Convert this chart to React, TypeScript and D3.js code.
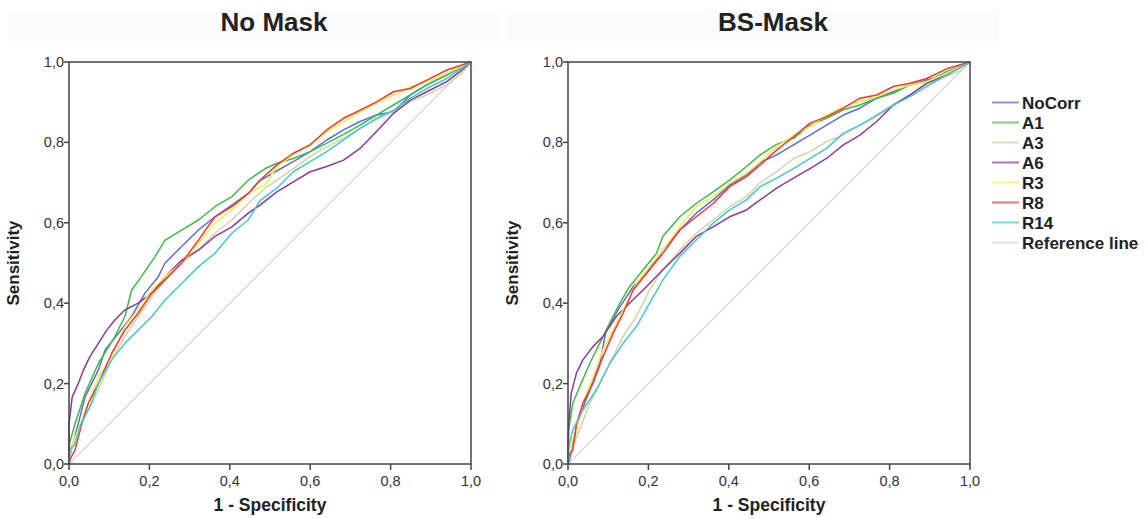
import React from "react";
import * as d3 from "d3";

type Pt = [number, number];

// series names + colours, in legend order
const seriesNames = ["NoCorr", "A1", "A3", "A6", "R3", "R8", "R14"];
const seriesColors = ["#5a6fd0", "#3fb84a", "#d8d3a6", "#8a3a9e", "#f2f04a", "#f0383a", "#45c6d0"];
const refLabel = "Reference line";
const refColor = "#d6d6d6";

const ticks = [0, 0.2, 0.4, 0.6, 0.8, 1.0];

// ---- No Mask ----
const nmNoCorr: Pt[] = [[0,0],[0.002,0.02],[0.023,0.1],[0.04,0.167],[0.073,0.234],[0.09,0.284],[0.123,0.325],[0.156,0.367],[0.189,0.425],[0.222,0.466],[0.239,0.5],[0.28,0.541],[0.322,0.582],[0.363,0.615],[0.405,0.644],[0.446,0.673],[0.475,0.705],[0.513,0.727],[0.558,0.752],[0.6,0.777],[0.641,0.806],[0.683,0.831],[0.724,0.852],[0.765,0.868],[0.807,0.876],[0.849,0.918],[0.89,0.943],[0.94,0.968],[1,1]];
const nmA1: Pt[] = [[0,0],[0.001,0.05],[0.015,0.1],[0.04,0.176],[0.073,0.25],[0.114,0.317],[0.139,0.367],[0.156,0.433],[0.18,0.466],[0.214,0.516],[0.239,0.557],[0.28,0.582],[0.322,0.607],[0.363,0.64],[0.405,0.665],[0.446,0.706],[0.488,0.735],[0.517,0.748],[0.558,0.76],[0.6,0.777],[0.641,0.798],[0.683,0.82],[0.724,0.843],[0.765,0.868],[0.807,0.893],[0.849,0.918],[0.89,0.943],[0.94,0.968],[1,1]];
const nmA3: Pt[] = [[0,0],[0.002,0.035],[0.023,0.085],[0.048,0.134],[0.073,0.184],[0.106,0.259],[0.139,0.317],[0.172,0.367],[0.206,0.416],[0.239,0.458],[0.28,0.5],[0.322,0.532],[0.363,0.574],[0.405,0.607],[0.446,0.648],[0.488,0.686],[0.517,0.706],[0.558,0.735],[0.6,0.765],[0.641,0.789],[0.683,0.81],[0.724,0.835],[0.765,0.856],[0.807,0.876],[0.849,0.901],[0.89,0.918],[0.94,0.943],[0.98,0.975],[1,1]];
const nmA6: Pt[] = [[0,0],[0,0.1],[0.008,0.167],[0.023,0.2],[0.036,0.234],[0.052,0.267],[0.073,0.3],[0.094,0.333],[0.114,0.358],[0.139,0.383],[0.172,0.4],[0.206,0.425],[0.239,0.466],[0.28,0.507],[0.322,0.532],[0.363,0.566],[0.405,0.59],[0.446,0.624],[0.475,0.644],[0.517,0.677],[0.558,0.702],[0.6,0.727],[0.641,0.74],[0.683,0.756],[0.724,0.785],[0.765,0.827],[0.807,0.872],[0.849,0.905],[0.89,0.926],[0.94,0.951],[0.972,0.976],[1,1]];
const nmR3: Pt[] = [[0,0],[0.002,0.027],[0.023,0.085],[0.048,0.151],[0.073,0.217],[0.106,0.267],[0.139,0.342],[0.172,0.383],[0.206,0.433],[0.239,0.466],[0.28,0.5],[0.322,0.549],[0.363,0.599],[0.405,0.632],[0.446,0.673],[0.488,0.694],[0.517,0.74],[0.558,0.77],[0.6,0.795],[0.641,0.827],[0.683,0.852],[0.724,0.876],[0.765,0.897],[0.807,0.918],[0.849,0.939],[0.89,0.951],[0.94,0.972],[1,1]];
const nmR8: Pt[] = [[0,0],[0.002,0.01],[0.015,0.035],[0.032,0.1],[0.048,0.151],[0.073,0.2],[0.106,0.275],[0.139,0.333],[0.172,0.375],[0.206,0.425],[0.239,0.458],[0.28,0.5],[0.322,0.557],[0.363,0.615],[0.405,0.64],[0.446,0.673],[0.475,0.706],[0.517,0.744],[0.558,0.773],[0.6,0.794],[0.641,0.831],[0.683,0.86],[0.724,0.88],[0.765,0.901],[0.807,0.926],[0.849,0.934],[0.89,0.955],[0.94,0.98],[1,1]];
const nmR14: Pt[] = [[0,0],[0.002,0.035],[0.015,0.05],[0.03,0.1],[0.056,0.151],[0.073,0.2],[0.106,0.259],[0.139,0.3],[0.172,0.333],[0.206,0.367],[0.239,0.408],[0.28,0.449],[0.322,0.491],[0.363,0.524],[0.405,0.574],[0.446,0.607],[0.475,0.655],[0.517,0.686],[0.558,0.727],[0.6,0.752],[0.641,0.777],[0.683,0.806],[0.724,0.835],[0.765,0.86],[0.807,0.88],[0.849,0.91],[0.89,0.934],[0.94,0.959],[1,1]];

// ---- BS-Mask ----
const bsNoCorr: Pt[] = [[0,0],[0.004,0.01],[0.012,0.05],[0.029,0.118],[0.054,0.184],[0.079,0.25],[0.095,0.333],[0.129,0.391],[0.162,0.441],[0.195,0.474],[0.236,0.532],[0.278,0.582],[0.319,0.624],[0.361,0.657],[0.402,0.694],[0.444,0.719],[0.478,0.75],[0.519,0.769],[0.561,0.794],[0.602,0.818],[0.643,0.843],[0.685,0.868],[0.726,0.885],[0.768,0.91],[0.809,0.926],[0.851,0.943],[0.892,0.955],[0.942,0.968],[1,1]];
const bsA1: Pt[] = [[0,0],[0,0.076],[0.012,0.151],[0.029,0.192],[0.054,0.25],[0.087,0.317],[0.112,0.367],[0.129,0.4],[0.153,0.441],[0.187,0.483],[0.22,0.524],[0.236,0.566],[0.278,0.615],[0.319,0.648],[0.361,0.677],[0.402,0.706],[0.444,0.74],[0.478,0.769],[0.519,0.795],[0.561,0.81],[0.602,0.843],[0.643,0.86],[0.685,0.881],[0.726,0.893],[0.768,0.91],[0.809,0.922],[0.851,0.943],[0.892,0.951],[0.942,0.976],[1,1]];
const bsA3: Pt[] = [[0,0],[0.004,0.027],[0.029,0.085],[0.054,0.151],[0.079,0.2],[0.112,0.267],[0.137,0.317],[0.17,0.367],[0.203,0.433],[0.236,0.483],[0.278,0.532],[0.319,0.574],[0.361,0.607],[0.402,0.64],[0.444,0.665],[0.478,0.7],[0.519,0.727],[0.561,0.76],[0.602,0.777],[0.643,0.802],[0.685,0.818],[0.726,0.843],[0.768,0.864],[0.809,0.893],[0.851,0.918],[0.892,0.943],[0.942,0.964],[0.98,0.98],[1,1]];
const bsA6: Pt[] = [[0,0],[0.002,0.101],[0.008,0.176],[0.021,0.226],[0.037,0.259],[0.062,0.292],[0.087,0.317],[0.12,0.367],[0.153,0.4],[0.195,0.441],[0.236,0.483],[0.278,0.524],[0.319,0.566],[0.361,0.59],[0.402,0.615],[0.444,0.632],[0.478,0.657],[0.519,0.686],[0.561,0.711],[0.602,0.735],[0.643,0.76],[0.685,0.794],[0.726,0.818],[0.768,0.852],[0.809,0.893],[0.851,0.918],[0.892,0.947],[0.942,0.968],[1,1]];
const bsR3: Pt[] = [[0,0],[0.002,0.035],[0.021,0.085],[0.037,0.151],[0.062,0.217],[0.087,0.284],[0.112,0.333],[0.137,0.383],[0.17,0.449],[0.203,0.491],[0.236,0.532],[0.278,0.59],[0.319,0.64],[0.361,0.665],[0.402,0.698],[0.444,0.723],[0.478,0.752],[0.519,0.789],[0.561,0.818],[0.602,0.839],[0.643,0.868],[0.685,0.889],[0.726,0.901],[0.768,0.914],[0.809,0.93],[0.851,0.943],[0.892,0.951],[0.942,0.972],[1,1]];
const bsR8: Pt[] = [[0,0],[0.002,0.022],[0.012,0.035],[0.021,0.1],[0.037,0.151],[0.062,0.2],[0.087,0.267],[0.112,0.325],[0.137,0.375],[0.162,0.433],[0.195,0.474],[0.236,0.524],[0.278,0.582],[0.319,0.615],[0.361,0.648],[0.402,0.69],[0.444,0.715],[0.478,0.744],[0.519,0.781],[0.561,0.814],[0.602,0.848],[0.643,0.864],[0.685,0.885],[0.726,0.91],[0.768,0.918],[0.809,0.939],[0.851,0.947],[0.892,0.959],[0.942,0.983],[1,1]];
const bsR14: Pt[] = [[0,0],[0.002,0.043],[0.012,0.085],[0.037,0.134],[0.07,0.184],[0.104,0.25],[0.137,0.3],[0.17,0.342],[0.203,0.4],[0.236,0.458],[0.278,0.516],[0.319,0.557],[0.361,0.599],[0.402,0.632],[0.444,0.657],[0.478,0.69],[0.519,0.711],[0.561,0.735],[0.602,0.76],[0.643,0.785],[0.685,0.823],[0.726,0.843],[0.768,0.868],[0.809,0.893],[0.851,0.914],[0.892,0.939],[0.942,0.968],[1,1]];

const refLine: Pt[] = [[0, 0], [1, 1]];

const noMaskSeries = [nmNoCorr, nmA1, nmA3, nmA6, nmR3, nmR8, nmR14];
const bsMaskSeries = [bsNoCorr, bsA1, bsA3, bsA6, bsR3, bsR8, bsR14];

const FONT = "'Liberation Sans', Arial, sans-serif";
const fmt = (v: number) => d3.format(".1f")(v).replace(".", ",");

function Panel({ left, title, data }: { left: number; title: string; data: Pt[][] }) {
  const size = 402;
  const top = 62;
  const x = d3.scaleLinear().domain([0, 1]).range([left, left + size]);
  const y = d3.scaleLinear().domain([0, 1]).range([top + size, top]);
  const line = d3.line<Pt>().x((d) => x(d[0])).y((d) => y(d[1]));
  const axisColor = "#444";

  return (
    <g>
      {/* faint title strip */}
      <rect x={left - 61} y={10} width={492} height={32} fill="#fbfbfb" />
      <text x={x(0.5) + 4} y={31} textAnchor="middle" fontFamily={FONT} fontWeight="bold" fontSize={26} fill="#222">
        {title}
      </text>

      <path d={line(refLine) || ""} fill="none" stroke={refColor} strokeWidth={1.3} />
      {data.map((s, i) => (
        <path key={i} d={line(s) || ""} fill="none" stroke={seriesColors[i]} strokeWidth={1.5} strokeLinejoin="round" />
      ))}

      {/* frame */}
      <rect x={x(0)} y={y(1)} width={size} height={size} fill="none" stroke={axisColor} strokeWidth={1.5} />

      {ticks.map((t) => (
        <g key={"y" + t}>
          <line x1={x(0) - 5} x2={x(0)} y1={y(t)} y2={y(t)} stroke={axisColor} strokeWidth={1.5} />
          <text x={x(0) - 5} y={y(t) + 5} textAnchor="end" fontFamily={FONT} fontSize={14.5} fill="#333">
            {fmt(t)}
          </text>
        </g>
      ))}
      {ticks.map((t) => (
        <g key={"x" + t}>
          <line x1={x(t)} x2={x(t)} y1={y(0)} y2={y(0) + 6} stroke={axisColor} strokeWidth={1.5} />
          <text x={x(t)} y={y(0) + 22} textAnchor="middle" fontFamily={FONT} fontSize={14.5} fill="#333">
            {fmt(t)}
          </text>
        </g>
      ))}

      <text x={x(0.5)} y={511} textAnchor="middle" fontFamily={FONT} fontWeight="bold" fontSize={17.5} fill="#222">
        1 - Specificity
      </text>
      <text
        transform={`translate(${left - 50},${y(0.5)}) rotate(-90)`}
        textAnchor="middle"
        fontFamily={FONT}
        fontWeight="bold"
        fontSize={17}
        fill="#222"
      >
        Sensitivity
      </text>
    </g>
  );
}

function Legend() {
  const labels = [...seriesNames, refLabel];
  const colors = [...seriesColors, refColor];
  const ly = d3.scalePoint<string>().domain(labels).range([102.5, 242.5]);
  return (
    <g>
      {labels.map((l, i) => (
        <g key={l}>
          <line x1={992} x2={1019} y1={ly(l)} y2={ly(l)} stroke={colors[i]} strokeWidth={2} opacity={0.7} />
          <text x={1022} y={(ly(l) || 0) + 6} fontFamily={FONT} fontWeight="bold" fontSize={17} fill="#222">
            {l}
          </text>
        </g>
      ))}
    </g>
  );
}

export default function App() {
  return (
    <svg width={1146} height={518} style={{ position: "absolute", left: 0, top: 0, background: "#fff" }}>
      <Panel left={69} title="No Mask" data={noMaskSeries} />
      <Panel left={568} title="BS-Mask" data={bsMaskSeries} />
      <Legend />
    </svg>
  );
}
